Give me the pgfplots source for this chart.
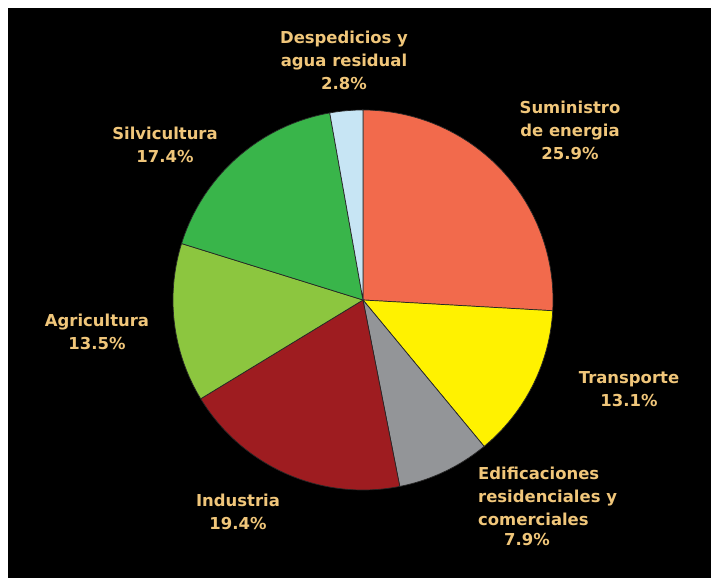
\documentclass[border=0pt]{standalone}
\usepackage{pgfplots}
\pgfplotsset{compat=1.18}
\usepackage{fontspec}
\setmainfont{DejaVu Sans}
\definecolor{csum}{HTML}{F26A4C}
\definecolor{ctran}{HTML}{FFF200}
\definecolor{cedif}{HTML}{939598}
\definecolor{cind}{HTML}{9E1C20}
\definecolor{cagri}{HTML}{8CC63F}
\definecolor{csilv}{HTML}{39B54A}
\definecolor{cdesp}{HTML}{C7E5F4}
\definecolor{ctext}{HTML}{F0C67A}
% slice: start cumulative %, end cumulative %, colour
\newcommand{\slice}[3]{%
  \addplot[fill=#3, draw=black!85, line width=0.7bp, samples=80,
    domain={90-3.6*#2}:{90-3.6*#1}]
    ({363+190*cos(x)},{286+190*sin(x)}) -- (axis cs:363,286) -- cycle;}
\begin{document}
\begin{tikzpicture}[lbl/.style={color=ctext, inner sep=0pt,
    font=\fontsize{16.5}{23}\selectfont\bfseries}]
\begin{axis}[x=1bp, y=1bp, xmin=0, xmax=718, ymin=0, ymax=586,
  hide axis, scale only axis, clip=false]
\addplot[fill=white, draw=none] coordinates {(0,0) (718,0) (718,586) (0,586)} -- cycle;
\addplot[fill=black, draw=none] coordinates {(8,8) (711,8) (711,578) (8,578)} -- cycle;
% cumulative shares: 25.9, 13.1, 7.9, 19.4, 13.5, 17.4, 2.8
\slice{0}{25.9}{csum}
\slice{25.9}{39.0}{ctran}
\slice{39.0}{46.9}{cedif}
\slice{46.9}{66.3}{cind}
\slice{66.3}{79.8}{cagri}
\slice{79.8}{97.2}{csilv}
\slice{97.2}{100}{cdesp}
\node[lbl, align=center] at (axis cs:344,526) {Despedicios y\\agua residual\\2.8\%};
\node[lbl, align=center] at (axis cs:570,456) {Suministro\\de energia\\25.9\%};
\node[lbl, align=center] at (axis cs:165,441.5) {Silvicultura\\17.4\%};
\node[lbl, align=center] at (axis cs:97,254.5) {Agricultura\\13.5\%};
\node[lbl, align=center] at (axis cs:629,196.5) {Transporte\\13.1\%};
\node[lbl, align=center] at (axis cs:238,74.5) {Industria\\19.4\%};
\node[lbl, align=left, anchor=west] at (axis cs:478,90) {Edificaciones\\residenciales y\\comerciales};
\node[lbl] at (axis cs:527,46) {7.9\%};
\end{axis}
\end{tikzpicture}
\end{document}
